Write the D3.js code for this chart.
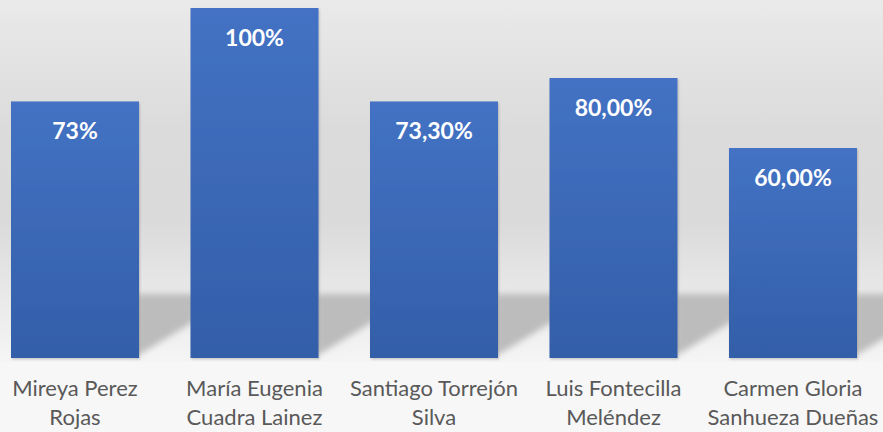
<!DOCTYPE html>
<html>
<head>
<meta charset="utf-8">
<script src="https://cdn.jsdelivr.net/npm/d3@7"></script>
<style>
  html, body { margin: 0; padding: 0; background: #f7f7f7; }
  svg { display: block; }
</style>
</head>
<body>
<svg id="chart" width="883" height="432"></svg>
<script>
const categories = [
  ["Mireya Perez", "Rojas"],
  ["María Eugenia", "Cuadra Lainez"],
  ["Santiago Torrejón", "Silva"],
  ["Luis Fontecilla", "Meléndez"],
  ["Carmen Gloria", "Sanhueza Dueñas"]
];
const values = [0.733, 1.0, 0.733, 0.80, 0.60];
const valueLabels = ["73%", "100%", "73,30%", "80,00%", "60,00%"];

const W = 883, H = 432;
const baseY = 358, topY = 8, floorY = 291;
const svg = d3.select("#chart");
const defs = svg.append("defs");

const wall = defs.append("linearGradient").attr("id", "wall")
  .attr("gradientUnits", "userSpaceOnUse")
  .attr("x1", 0).attr("y1", 0).attr("x2", 0).attr("y2", 362);
[[0, "#eaeaea"], [130 / 362, "#dbdbdb"], [220 / 362, "#dadada"], [291 / 362, "#e8e8e8"], [1, "#f5f5f5"]]
  .forEach(([o, c]) => wall.append("stop").attr("offset", o).attr("stop-color", c));

const barG = defs.append("linearGradient").attr("id", "barGrad")
  .attr("x1", 0).attr("y1", 0).attr("x2", 0).attr("y2", 1);
[[0, "#4472c4"], [1, "#335ea8"]]
  .forEach(([o, c]) => barG.append("stop").attr("offset", o).attr("stop-color", c));

defs.append("filter").attr("id", "blur").attr("x", "-20%").attr("y", "-20%")
  .attr("width", "140%").attr("height", "140%")
  .append("feGaussianBlur").attr("stdDeviation", 3);

const ds = defs.append("filter").attr("id", "drop").attr("x", "-10%").attr("y", "-10%")
  .attr("width", "130%").attr("height", "130%");
ds.append("feDropShadow").attr("dx", 1).attr("dy", 1.5).attr("stdDeviation", 1.2)
  .attr("flood-color", "#000").attr("flood-opacity", 0.18);

// background
svg.append("rect").attr("x", 0).attr("y", 0).attr("width", W).attr("height", 362)
  .attr("fill", "url(#wall)");
svg.append("rect").attr("x", 0).attr("y", 362).attr("width", W).attr("height", H - 362)
  .attr("fill", "#f7f7f7");

const x = d3.scaleBand().domain(d3.range(categories.length))
  .range([-14.75, 882.75]).paddingInner(0.2869).paddingOuter(0.1435);
const y = d3.scaleLinear().domain([0, 1]).range([baseY, topY]);

// floor shadows
const shadowG = svg.append("g").attr("filter", "url(#blur)");
shadowG.selectAll("path").data(values).join("path")
  .attr("d", (d, i) => {
    const r = x(i) + x.bandwidth();
    return `M${r - 2},${floorY + 3} L${r + 100},${floorY + 3} L${r - 2},${baseY - 2} Z`;
  })
  .attr("fill", "#bcbcbc");

// bars
svg.append("g").selectAll("rect").data(values).join("rect")
  .attr("x", (d, i) => x(i))
  .attr("y", d => y(d))
  .attr("width", x.bandwidth())
  .attr("height", d => y(0) - y(d))
  .attr("fill", "url(#barGrad)")
  .attr("filter", "url(#drop)");

// value labels
svg.append("g").selectAll("text").data(values).join("text")
  .attr("x", (d, i) => x(i) + x.bandwidth() / 2)
  .attr("y", d => y(d) + 38)
  .attr("text-anchor", "middle")
  .attr("fill", "#ffffff")
  .attr("font-family", "Lato, 'Open Sans', sans-serif")
  .attr("font-weight", "bold")
  .attr("font-size", 23)
  .text((d, i) => valueLabels[i]);

// category labels
const cat = svg.append("g").selectAll("text").data(categories).join("text")
  .attr("x", (d, i) => x(i) + x.bandwidth() / 2)
  .attr("y", 396)
  .attr("text-anchor", "middle")
  .attr("fill", "#595959")
  .attr("font-family", "Lato, 'Open Sans', sans-serif")
  .attr("font-size", 22);
cat.each(function(d) {
  const t = d3.select(this);
  d.forEach((line, j) => {
    t.append("tspan").attr("x", t.attr("x")).attr("dy", j === 0 ? 0 : 29).text(line);
  });
});
</script>
</body>
</html>
